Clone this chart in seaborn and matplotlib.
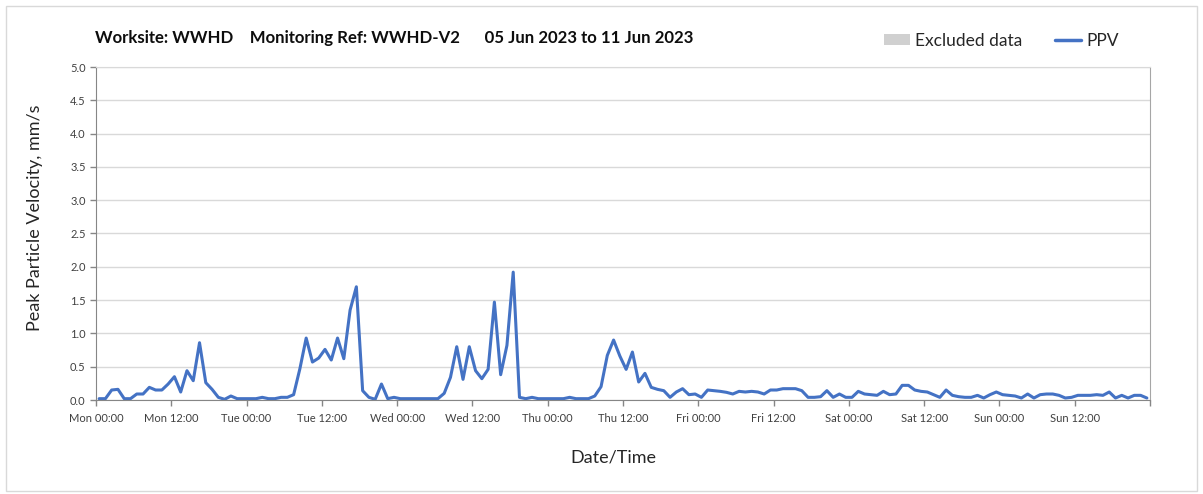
import numpy as np
import pandas as pd
import seaborn as sns
import matplotlib.pyplot as plt
import matplotlib.dates as mdates
from matplotlib.ticker import FuncFormatter
from matplotlib.patches import Patch, Rectangle
from matplotlib.lines import Line2D

# hourly PPV readings, mm/s
start = '2023-06-05 00:30'
end = '2023-06-12 00:00'
ppv_mon = [0.02, 0.02, 0.15, 0.16, 0.02, 0.02, 0.09, 0.09, 0.19, 0.15, 0.15, 0.24,
           0.35, 0.12, 0.44, 0.29, 0.86, 0.26, 0.16, 0.04, 0.01, 0.06, 0.02, 0.02]
ppv_tue = [0.02, 0.02, 0.04, 0.02, 0.02, 0.04, 0.04, 0.08, 0.47, 0.93, 0.57, 0.63,
           0.76, 0.60, 0.93, 0.62, 1.35, 1.70, 0.14, 0.04, 0.01, 0.24, 0.02, 0.04]
ppv_wed = [0.02, 0.02, 0.02, 0.02, 0.02, 0.02, 0.02, 0.10, 0.34, 0.80, 0.31, 0.80,
           0.44, 0.32, 0.46, 1.47, 0.38, 0.82, 1.92, 0.04, 0.02, 0.04, 0.02, 0.02]
ppv_thu = [0.02, 0.02, 0.02, 0.04, 0.02, 0.02, 0.02, 0.06, 0.20, 0.67, 0.90, 0.66,
           0.46, 0.72, 0.27, 0.40, 0.19, 0.16, 0.14, 0.04, 0.12, 0.17, 0.08, 0.09]
ppv_fri = [0.04, 0.15, 0.14, 0.13, 0.115, 0.09, 0.13, 0.12, 0.13, 0.12, 0.09, 0.15,
           0.15, 0.17, 0.17, 0.17, 0.14, 0.04, 0.04, 0.05, 0.14, 0.04, 0.09, 0.04]
ppv_sat = [0.04, 0.13, 0.09, 0.08, 0.07, 0.13, 0.08, 0.09, 0.22, 0.22, 0.15, 0.13,
           0.12, 0.08, 0.04, 0.15, 0.07, 0.05, 0.04, 0.04, 0.07, 0.03, 0.08, 0.12]
ppv_sun = [0.08, 0.07, 0.06, 0.03, 0.09, 0.03, 0.08, 0.09, 0.09, 0.07, 0.03, 0.04,
           0.07, 0.07, 0.07, 0.08, 0.07, 0.12, 0.03, 0.07, 0.03, 0.07, 0.07, 0.03]

ppv = ppv_mon + ppv_tue + ppv_wed + ppv_thu + ppv_fri + ppv_sat + ppv_sun
df = pd.DataFrame({'time': pd.date_range(start, periods=len(ppv), freq='h'),
                   'ppv': ppv})

title = 'Worksite: WWHD    Monitoring Ref: WWHD-V2      05 Jun 2023 to 11 Jun 2023'
blue = '#4472c4'
grid_col = '#d9d9d9'
axis_col = '#868686'

sns.set_style('white')
plt.rcParams['font.family'] = ['Lato', 'DejaVu Sans']

W, H = 1203, 494
fig = plt.figure(figsize=(W / 100, H / 100), dpi=100)
ax = fig.add_axes([96 / W, 1 - 400 / H, (1150 - 96) / W, (400 - 67) / H])

sns.lineplot(data=df, x='time', y='ppv', ax=ax, color=blue, linewidth=2.2)

t_end = pd.Timestamp(end)
ax.set_xlim(pd.Timestamp('2023-06-05'), t_end)
ax.set_ylim(0, 5)
ax.set_yticks(np.arange(0, 5.01, 0.5))
ax.yaxis.set_major_formatter(FuncFormatter(lambda v, p: '%.1f' % v))

end_num = mdates.date2num(t_end)
ax.xaxis.set_major_locator(mdates.HourLocator(byhour=[0, 12]))
ax.xaxis.set_minor_locator(mdates.DayLocator())
ax.xaxis.set_major_formatter(FuncFormatter(
    lambda v, p: '' if v >= end_num - 1e-6 else mdates.num2date(v).strftime('%a %H:%M')))

ax.grid(axis='y', which='major', color=grid_col, lw=1)
ax.grid(axis='x', which='minor', color=grid_col, lw=1)
ax.set_axisbelow(True)

for side in ['left', 'bottom']:
    ax.spines[side].set_color(axis_col)
ax.spines['top'].set_color(grid_col)
ax.spines['right'].set_color('#a6a6a6')

ax.tick_params(axis='both', which='major', direction='out', length=4, width=1,
               color=axis_col, labelsize=8, labelcolor='#404040', left=True, bottom=True)
ax.tick_params(axis='x', which='major', pad=5)
ax.tick_params(axis='x', which='minor', length=0)

ax.set_ylabel('Peak Particle Velocity, mm/s', fontsize=13, color='#262626')
ax.yaxis.set_label_coords(-0.05, 0.547)
ax.set_xlabel('Date/Time', fontsize=13, color='#262626')
ax.xaxis.set_label_coords(0.491, -0.150)

fig.text(95 / W, 1 - 38 / H, title, fontsize=12.1, fontweight='bold', va='center',
         color='#0d0d0d')

handles = [Patch(facecolor='#d0d0d0', edgecolor='none', label='Excluded data'),
           Line2D([], [], color=blue, lw=2.5, label='PPV')]
fig.legend(handles=handles, loc='center right', bbox_to_anchor=(1119 / W, 1 - 41 / H),
           ncol=2, frameon=False, fontsize=12.5, handlelength=1.5, handleheight=0.6,
           columnspacing=1.9, handletextpad=0.3, borderpad=0, borderaxespad=0)

fig.add_artist(Rectangle((6 / W, 3 / H), (W - 12) / W, (H - 9) / H,
                         transform=fig.transFigure, fill=False, edgecolor=grid_col, lw=1))

fig.savefig('out.png', dpi=100)
